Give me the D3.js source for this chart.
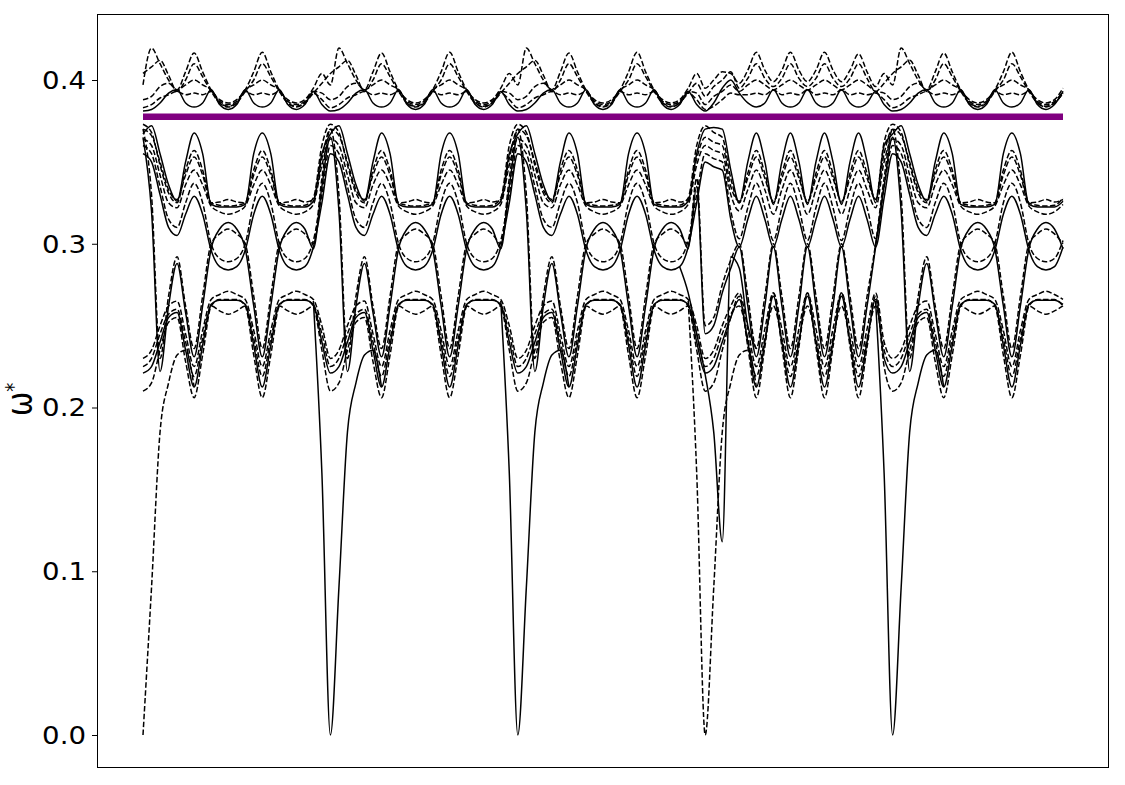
<!DOCTYPE html>
<html><head><meta charset="utf-8">
<script src="https://cdn.jsdelivr.net/npm/d3@7"></script>
<style>body{margin:0;background:#fff}</style>
</head><body>
<svg id="c" width="1125" height="785"></svg>
<script>
// ---------- DATA ----------
// k-path sample index 0..108 ; path segments of 22 samples each
const segmentOrder = ["A","A","A","D","A"];
const nSamples = 109;
const yTicks = [0.0, 0.1, 0.2, 0.3, 0.4];
const yTickLabels = ["0.0","0.1","0.2","0.3","0.4"];
const purpleLevel = 0.3776;

// upper band (top) – template A (one path segment, 22 samples)
const S1_A = [0.381,0.382,0.386,0.392,0.394,0.386,0.3835,0.386,0.394,0.385,0.382,0.385,0.394,0.386,0.3835,0.386,0.394,0.385,0.382,0.385,0.393,0.385];
const T1_A = [0.397,0.4195,0.41,0.40,0.394,0.405,0.4165,0.405,0.394,0.388,0.386,0.388,0.394,0.405,0.417,0.405,0.394,0.388,0.386,0.388,0.395,0.404];
const T2_A = [0.404,0.408,0.412,0.403,0.393,0.400,0.410,0.402,0.393,0.386,0.384,0.386,0.393,0.400,0.410,0.402,0.393,0.386,0.384,0.386,0.392,0.398];
const T3_A = [0.388,0.390,0.396,0.398,0.394,0.397,0.400,0.397,0.394,0.387,0.385,0.387,0.394,0.397,0.400,0.397,0.394,0.387,0.385,0.387,0.393,0.392];
const T4_A = [0.383,0.385,0.389,0.391,0.393,0.391,0.392,0.391,0.393,0.386,0.3835,0.386,0.393,0.391,0.392,0.391,0.393,0.386,0.3835,0.386,0.392,0.388];
// upper band – template D
const S1_D = [0.381,0.386,0.395,0.400,0.392,0.386,0.3835,0.386,0.394,0.386,0.3835,0.386,0.394,0.386,0.3835,0.386,0.394,0.386,0.3835,0.386,0.393,0.385];
const T1_D = [0.395,0.400,0.405,0.404,0.398,0.406,0.417,0.406,0.399,0.406,0.417,0.406,0.399,0.406,0.417,0.406,0.399,0.406,0.416,0.405,0.396,0.404];
const T2_D = [0.390,0.396,0.400,0.405,0.395,0.401,0.410,0.401,0.396,0.401,0.410,0.401,0.396,0.401,0.410,0.401,0.396,0.401,0.410,0.401,0.393,0.398];
const T3_D = [0.385,0.390,0.393,0.397,0.393,0.397,0.400,0.397,0.394,0.397,0.400,0.397,0.394,0.397,0.400,0.397,0.394,0.397,0.400,0.397,0.393,0.392];
const T4_D = [0.382,0.384,0.388,0.392,0.391,0.391,0.392,0.391,0.394,0.391,0.392,0.391,0.394,0.391,0.392,0.391,0.394,0.391,0.392,0.391,0.392,0.388];

// middle band – template A
const U1_A = [0.367,0.372,0.355,0.336,0.326,0.350,0.3676,0.355,0.324,0.3225,0.3225,0.3225,0.324,0.355,0.3676,0.355,0.324,0.3225,0.3225,0.3225,0.326,0.355];
const U2_A = [0.373,0.368,0.348,0.331,0.325,0.345,0.357,0.345,0.325,0.3235,0.323,0.3235,0.325,0.345,0.357,0.345,0.325,0.3235,0.323,0.3235,0.328,0.360];
const U3_A = [0.370,0.366,0.350,0.333,0.327,0.342,0.353,0.342,0.325,0.3255,0.327,0.3255,0.325,0.342,0.353,0.342,0.325,0.3255,0.327,0.3255,0.327,0.352];
const U4_A = [0.364,0.360,0.342,0.325,0.322,0.336,0.345,0.336,0.323,0.3195,0.318,0.3195,0.323,0.336,0.345,0.336,0.323,0.3195,0.318,0.3195,0.324,0.348];
const U5_A = [0.360,0.355,0.335,0.315,0.310,0.325,0.337,0.325,0.300,0.291,0.289,0.291,0.300,0.325,0.337,0.325,0.300,0.291,0.289,0.291,0.302,0.330];
const U6_A = [0.355,0.350,0.330,0.310,0.305,0.318,0.329,0.318,0.296,0.286,0.284,0.286,0.296,0.318,0.329,0.318,0.296,0.286,0.284,0.286,0.298,0.325];
const L1_A = [0.210,0.215,0.235,0.252,0.255,0.228,0.206,0.232,0.262,0.266,0.266,0.266,0.262,0.232,0.206,0.232,0.262,0.266,0.266,0.266,0.262,0.235];
const L2_A = [0.221,0.225,0.240,0.255,0.258,0.235,0.2125,0.238,0.263,0.2655,0.2655,0.2655,0.263,0.238,0.2125,0.238,0.263,0.2655,0.2655,0.2655,0.263,0.240];
const L3_A = [0.225,0.230,0.245,0.257,0.260,0.240,0.219,0.242,0.262,0.259,0.257,0.259,0.262,0.242,0.219,0.242,0.262,0.259,0.257,0.259,0.262,0.245];
const L4_A = [0.230,0.235,0.250,0.262,0.265,0.245,0.225,0.247,0.266,0.269,0.271,0.269,0.266,0.247,0.225,0.247,0.266,0.269,0.271,0.269,0.266,0.250];
const L5_A = [0.365,0.320,0.222,0.262,0.288,0.258,0.231,0.262,0.297,0.309,0.313,0.309,0.297,0.262,0.231,0.262,0.297,0.309,0.313,0.309,0.297,0.335];
const L6_A = [0.370,0.330,0.230,0.268,0.292,0.262,0.236,0.268,0.300,0.306,0.309,0.306,0.300,0.268,0.236,0.268,0.300,0.306,0.309,0.306,0.300,0.340];
// middle band – template D
const U1_D = [0.370,0.371,0.370,0.345,0.325,0.350,0.3676,0.350,0.324,0.350,0.3676,0.350,0.324,0.350,0.3676,0.350,0.324,0.350,0.3676,0.350,0.325,0.360];
const U2_D = [0.372,0.368,0.365,0.340,0.325,0.343,0.357,0.343,0.325,0.343,0.357,0.343,0.325,0.343,0.357,0.343,0.325,0.343,0.357,0.343,0.327,0.362];
const U3_D = [0.365,0.362,0.360,0.335,0.326,0.340,0.353,0.340,0.326,0.340,0.353,0.340,0.326,0.340,0.353,0.340,0.326,0.340,0.353,0.340,0.327,0.355];
const U4_D = [0.360,0.357,0.355,0.330,0.320,0.333,0.345,0.333,0.318,0.333,0.345,0.333,0.318,0.333,0.345,0.333,0.318,0.333,0.345,0.333,0.322,0.350];
const U5_D = [0.355,0.352,0.350,0.320,0.303,0.322,0.337,0.322,0.302,0.322,0.337,0.322,0.302,0.322,0.337,0.322,0.302,0.322,0.337,0.322,0.303,0.335];
const U6_D = [0.350,0.347,0.345,0.315,0.298,0.315,0.329,0.315,0.298,0.315,0.329,0.315,0.298,0.315,0.329,0.315,0.298,0.315,0.329,0.315,0.298,0.328];
const L1_D = [0.210,0.215,0.235,0.255,0.268,0.237,0.206,0.237,0.270,0.237,0.206,0.237,0.270,0.237,0.206,0.237,0.270,0.237,0.206,0.237,0.268,0.225];
const L2_D = [0.221,0.225,0.240,0.255,0.266,0.240,0.2125,0.240,0.268,0.240,0.2125,0.240,0.268,0.240,0.2125,0.240,0.268,0.240,0.2125,0.240,0.266,0.230];
const L3_D = [0.225,0.230,0.245,0.257,0.262,0.242,0.219,0.242,0.262,0.242,0.219,0.242,0.262,0.242,0.219,0.242,0.262,0.242,0.219,0.242,0.262,0.235];
const L4_D = [0.230,0.235,0.250,0.262,0.270,0.248,0.225,0.248,0.270,0.248,0.225,0.248,0.270,0.248,0.225,0.248,0.270,0.248,0.225,0.248,0.270,0.240];
const L5_D = [0.245,0.250,0.270,0.285,0.298,0.262,0.231,0.262,0.298,0.262,0.231,0.262,0.298,0.262,0.231,0.262,0.298,0.262,0.231,0.262,0.298,0.335];
const L6_D = [0.250,0.255,0.275,0.290,0.300,0.268,0.236,0.268,0.300,0.268,0.236,0.268,0.300,0.268,0.236,0.268,0.300,0.268,0.236,0.268,0.300,0.340];

// acoustic branch near each zone boundary (offsets -2..6 around the boundary sample)
const dropOffsets = [-2,-1,0,1,2,3,4,5,6];
const dropValues  = [0.265,0.160,0.0,0.090,0.185,0.215,0.232,0.235,0.2125];
const dropBoundaries = [0,22,44,66,88];
const dropDashed = [true,false,false,true,false];
// special branch near sample 66
const specOffsets = [-3,-2,-1,0,1,2,3,4,5,6];
const specValues  = [0.286,0.270,0.245,0.220,0.185,0.118,0.292,0.285,0.250,0.236];
const specBoundary = 66;

// ---------- build ----------
const bandDefs = [
  {A:S1_A, D:S1_D, dashed:false},
  {A:T1_A, D:T1_D, dashed:true},
  {A:T2_A, D:T2_D, dashed:true},
  {A:T3_A, D:T3_D, dashed:true},
  {A:T4_A, D:T4_D, dashed:true},
  {A:U1_A, D:U1_D, dashed:false},
  {A:U2_A, D:U2_D, dashed:true},
  {A:U3_A, D:U3_D, dashed:true},
  {A:U4_A, D:U4_D, dashed:true},
  {A:U5_A, D:U5_D, dashed:true},
  {A:U6_A, D:U6_D, dashed:false},
  {A:L1_A, D:L1_D, dashed:true},
  {A:L2_A, D:L2_D, dashed:false},
  {A:L3_A, D:L3_D, dashed:true},
  {A:L4_A, D:L4_D, dashed:true},
  {A:L5_A, D:L5_D, dashed:false},
  {A:L6_A, D:L6_D, dashed:true}
];
function buildSeries(def){
  let v = [];
  segmentOrder.forEach(s => { v = v.concat(def[s]); });
  return v.slice(0, nSamples).map((d,i)=>[i,d]);
}

const W = 1125, H = 785;
const plot = {l:97, t:14, r:1109, b:768};
const x = d3.scaleLinear().domain([-5.4, 113.4]).range([plot.l, plot.r]);
const y = d3.scaleLinear().domain([-0.02015, 0.44031]).range([plot.b, plot.t]);

const svg = d3.select("#c");
svg.append("rect").attr("width",W).attr("height",H).attr("fill","#fff");

const gLines = svg.append("g");
const line = d3.line().x(d=>x(d[0])).y(d=>y(d[1])).curve(d3.curveMonotoneX);

const DASH = "5.5,2.4";
const LW = 1.5;
bandDefs.forEach(def=>{
  gLines.append("path").attr("d", line(buildSeries(def)))
    .attr("fill","none").attr("stroke","#000").attr("stroke-width",LW)
    .attr("stroke-dasharray", def.dashed ? DASH : null);
});
dropBoundaries.forEach((b,k)=>{
  const pts = dropOffsets.map((o,i)=>[b+o, dropValues[i]]).filter(p=>p[0]>=0);
  gLines.append("path").attr("d", line(pts))
    .attr("fill","none").attr("stroke","#000").attr("stroke-width",LW)
    .attr("stroke-dasharray", dropDashed[k] ? DASH : null);
});
{
  const pts = specOffsets.map((o,i)=>[specBoundary+o, specValues[i]]);
  gLines.append("path").attr("d", line(pts))
    .attr("fill","none").attr("stroke","#000").attr("stroke-width",LW);
}

// purple reference line
svg.append("path").attr("d", d3.line().x(d=>x(d[0])).y(d=>y(d[1]))([[0,purpleLevel],[nSamples-1,purpleLevel]]))
  .attr("stroke","#800080").attr("stroke-width",6.5).attr("fill","none");

// frame
svg.append("rect").attr("x",plot.l+0.5).attr("y",plot.t+0.5)
  .attr("width",plot.r-plot.l-1).attr("height",plot.b-plot.t-1)
  .attr("fill","none").attr("stroke","#000").attr("stroke-width",1);

// y axis
const ax = svg.append("g").attr("transform",`translate(${plot.l},0)`)
  .call(d3.axisLeft(y).tickValues(yTicks).tickFormat((d,i)=>yTickLabels[i]).tickSize(5).tickPadding(7));
ax.select(".domain").remove();
ax.selectAll("line").attr("stroke","#000").attr("stroke-width",1);
ax.selectAll("text").each(function(){
  const t = d3.select(this);
  t.attr("x",null).attr("dy",null)
   .attr("transform","translate(-11,0) scale(1.15,1)")
   .attr("dominant-baseline","central");
}).attr("font-family","DejaVu Sans").attr("font-size",24).attr("fill","#000");

// y label
const lab = svg.append("text").attr("transform","translate(32,416) scale(1.2,1) rotate(-90)")
  .attr("text-anchor","start").attr("font-family","DejaVu Sans").attr("font-size",29).attr("fill","#000");
lab.append("tspan").text("ω");
lab.append("tspan").attr("dy",-9).attr("font-size",18).text("*");
</script>
</body></html>
